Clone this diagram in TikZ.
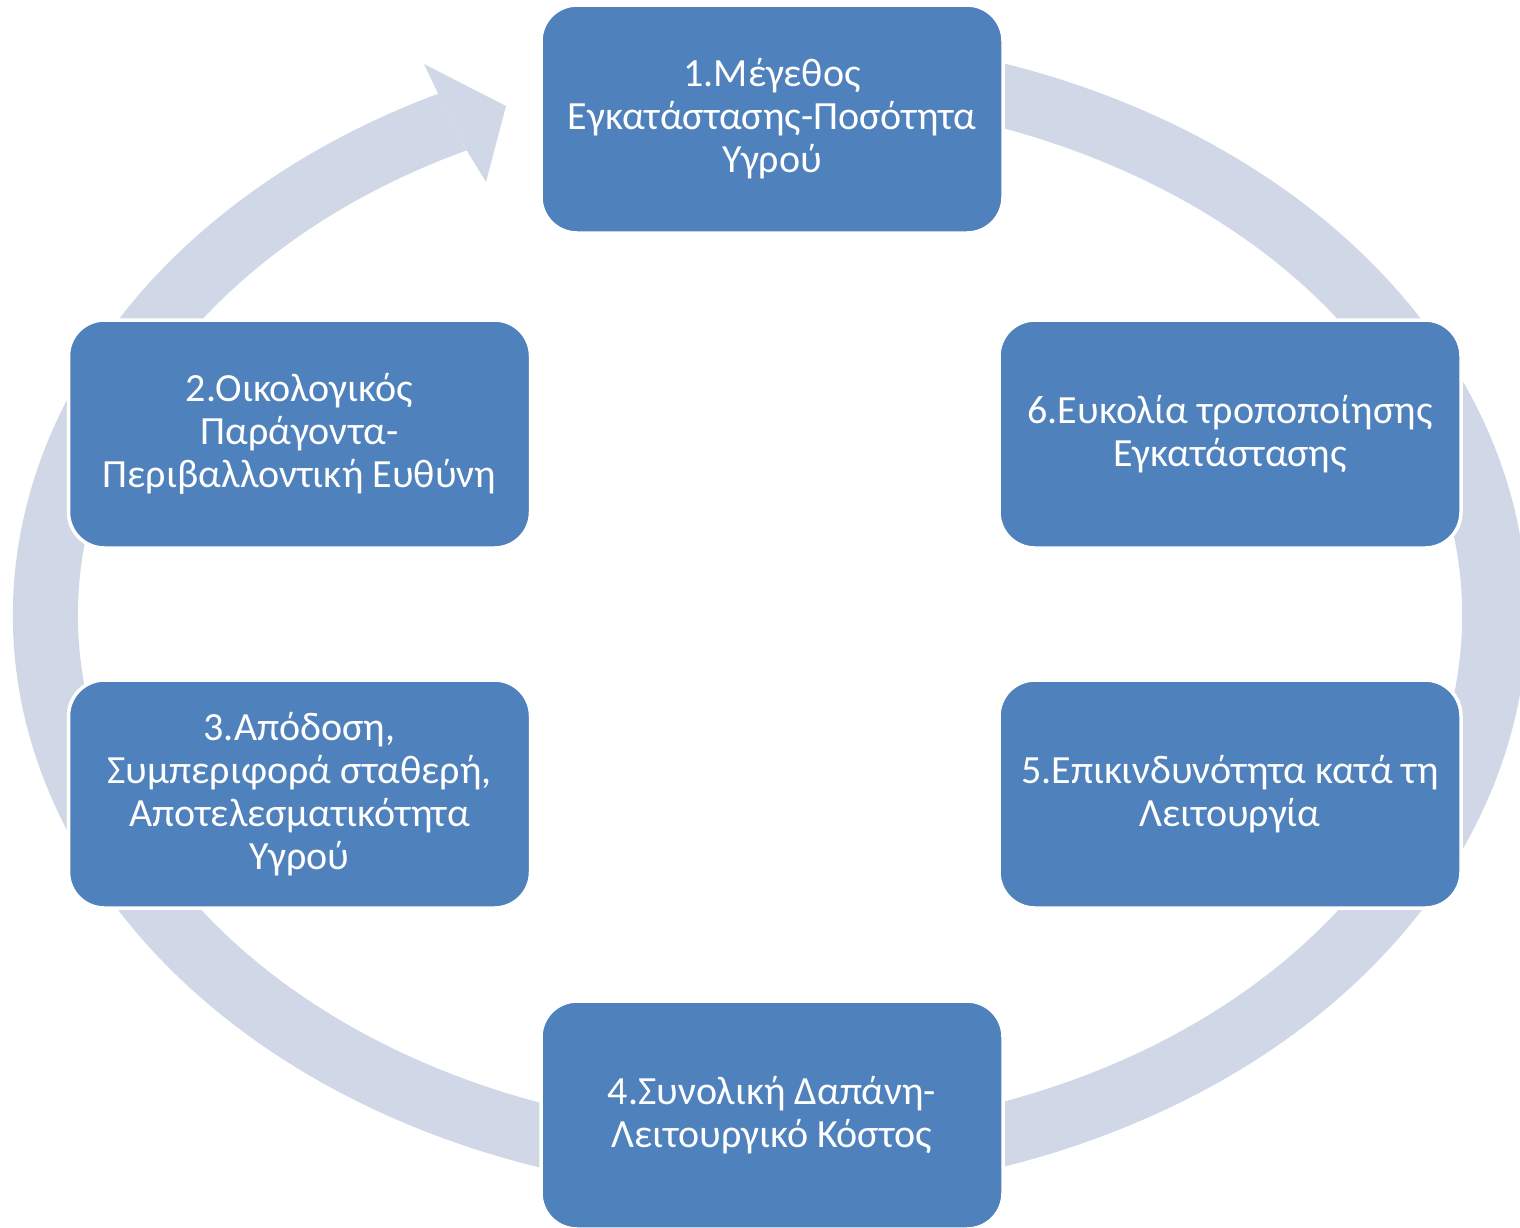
\documentclass[tikz,border=0pt]{standalone}
\usepackage{fontspec}
\setmainfont{Carlito}
\usetikzlibrary{calc}
\definecolor{boxblue}{RGB}{79,129,189}
\definecolor{ringblue}{RGB}{208,216,232}
\tikzset{
  stepbox/.style={rectangle, rounded corners=36pt, minimum width=462pt, minimum height=228pt,
    fill=boxblue, draw=white, line width=3.5pt, text=white, align=center,
    font=\fontsize{40}{43}\selectfont, inner sep=0pt},
  ringband/.style={fill=ringblue}
}
\begin{document}
\begin{tikzpicture}[x=1pt,y=1pt]
\useasboundingbox (0,0) rectangle (1520,-1227);
\coordinate (c) at (770,-615);
% ring band
\fill[ringband] ($(c)+(116:757 and 580)$) arc[start angle=116,end angle=463,x radius=757,y radius=580]
  -- ($(c)+(463:692 and 517)$) arc[start angle=463,end angle=116,x radius=692,y radius=517] -- cycle;
% arrowhead
\coordinate (ao) at ($(c)+(116:757 and 580)$);
\coordinate (ai) at ($(c)+(116:692 and 517)$);
\coordinate (atip) at (506,-106);
\fill[ringband] (ao) -- (424,-64) -- (atip) -- (486,-182) -- (ai) -- cycle;
% boxes
\node[stepbox] (b1) at (772,-119) {1.Μέγεθος\\Εγκατάστασης-Ποσότητα\\Υγρού};
\node[stepbox] (b2) at (299.5,-434) {2.Οικολογικός\\Παράγοντα-\\Περιβαλλοντική Ευθύνη};
\node[stepbox] (b3) at (299.5,-794) {3.Απόδοση,\\Συμπεριφορά σταθερή,\\Αποτελεσματικότητα\\Υγρού};
\node[stepbox] (b4) at (772,-1115) {4.Συνολική Δαπάνη-\\Λειτουργικό Κόστος};
\node[stepbox] (b5) at (1230,-794) {5.Επικινδυνότητα κατά τη\\Λειτουργία};
\node[stepbox] (b6) at (1230,-434) {6.Ευκολία τροποποίησης\\Εγκατάστασης};
\end{tikzpicture}
\end{document}
